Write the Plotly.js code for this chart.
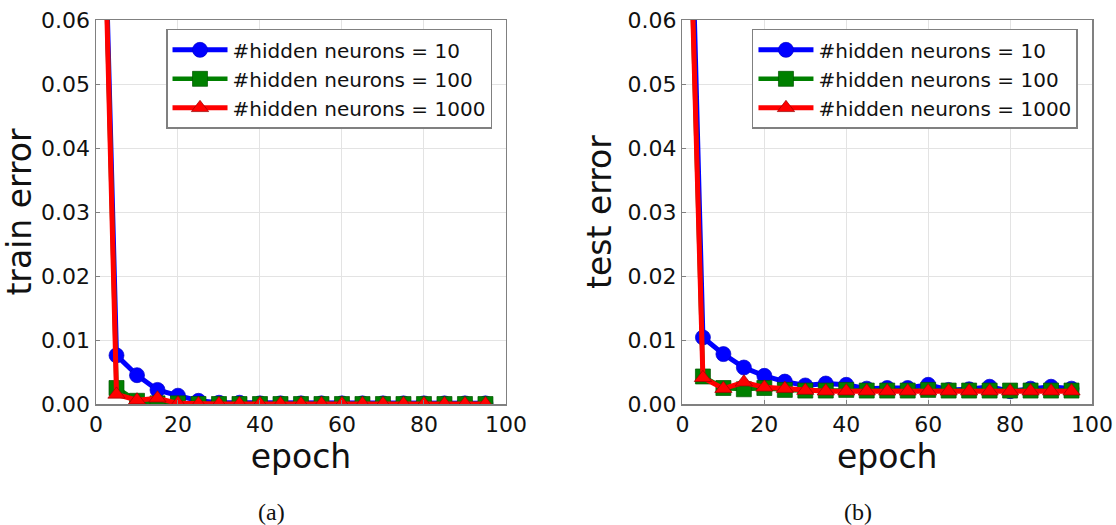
<!DOCTYPE html>
<html>
<head>
<meta charset="utf-8">
<script src="https://cdn.plot.ly/plotly-3.0.1.min.js"></script>
<style>html,body{margin:0;padding:0;background:#fff;}#chart{width:1116px;height:525px;}</style>
</head>
<body>
<div id="chart"></div>
<script>
// Data
const epochs = [0, 5, 10, 15, 20, 25, 30, 35, 40, 45, 50, 55, 60, 65, 70, 75, 80, 85, 90, 95];
const seriesNames = ['#hidden neurons = 10', '#hidden neurons = 100', '#hidden neurons = 1000'];

const trainH10 = [0.127, 0.0076, 0.0045, 0.0022, 0.0013, 0.0005, 0.0002, 0.0002, 0.0001, 0.0001, 0.0001, 0.0001, 0.0001, 0.0001, 0.0001, 0.0001, 0.0001, 0.0001, 0.0001, 0.0001];
const trainH100 = [0.128, 0.0025, 0.0005, 0.0001, 0.0001, 0.0000, 0.0000, 0.0000, 0.0000, 0.0000, 0.0000, 0.0000, 0.0000, 0.0000, 0.0000, 0.0000, 0.0000, 0.0000, 0.0000, 0.0000];
const trainH1000 = [0.128, 0.0015, 0.0006, 0.0009, 0.0001, 0.0000, 0.0000, 0.0000, 0.0000, 0.0000, 0.0000, 0.0000, 0.0000, 0.0000, 0.0000, 0.0000, 0.0000, 0.0000, 0.0000, 0.0000];

const testH10 = [0.130, 0.0104, 0.0078, 0.0057, 0.0044, 0.0035, 0.0029, 0.0032, 0.0030, 0.0024, 0.0025, 0.0025, 0.0030, 0.0022, 0.0023, 0.0027, 0.0020, 0.0024, 0.0027, 0.0024];
const testH100 = [0.119, 0.0043, 0.0025, 0.0023, 0.0025, 0.0022, 0.0021, 0.0021, 0.0022, 0.0021, 0.0021, 0.0021, 0.0022, 0.0021, 0.0021, 0.0021, 0.0021, 0.0021, 0.0021, 0.0021];
const testH1000 = [0.119, 0.0041, 0.0024, 0.0034, 0.0026, 0.0024, 0.0021, 0.0020, 0.0020, 0.0020, 0.0020, 0.0020, 0.0020, 0.0020, 0.0020, 0.0020, 0.0020, 0.0020, 0.0020, 0.0020];

const xTicks = [0, 20, 40, 60, 80, 100];
const yTicks = [0.00, 0.01, 0.02, 0.03, 0.04, 0.05, 0.06];

const styles = [
  {color: '#0000ff', symbol: 'circle', edge: '#0000cc', width: 5},
  {color: '#008000', symbol: 'square', edge: '#005500', width: 4.5},
  {color: '#ff0000', symbol: 'triangle-up', edge: '#990000', width: 5}
];

function mk(y, i, xa, ya, leg) {
  const s = styles[i];
  return {
    x: epochs, y: y, type: 'scatter', mode: 'lines+markers',
    name: seriesNames[i], xaxis: xa, yaxis: ya, legend: leg,
    cliponaxis: true,
    line: {color: s.color, width: s.width},
    marker: {symbol: s.symbol, size: 15, color: s.color, line: {color: s.edge, width: 0.7}}
  };
}

const data = [
  mk(trainH10, 0, 'x', 'y', 'legend'),
  mk(trainH100, 1, 'x', 'y', 'legend'),
  mk(trainH1000, 2, 'x', 'y', 'legend'),
  mk(testH10, 0, 'x2', 'y2', 'legend2'),
  mk(testH100, 1, 'x2', 'y2', 'legend2'),
  mk(testH1000, 2, 'x2', 'y2', 'legend2')
];

const F = 'DejaVu Sans';
function xax(domain, anchor) {
  return {
    domain: domain, anchor: anchor, range: [0, 100],
    tickvals: xTicks, ticktext: xTicks.map(String),
    ticks: 'inside', ticklen: 4, tickcolor: '#808080',
    showline: true, linecolor: '#808080', linewidth: 1.5, mirror: true,
    showgrid: true, gridcolor: '#e3e3e3', gridwidth: 1, zeroline: false,
    tickfont: {family: F, size: 22, color: '#111'},
    title: {text: 'epoch', font: {family: F, size: 33, color: '#111'}, standoff: 8}
  };
}
function yax(domain, anchor, title) {
  return {
    domain: domain, anchor: anchor, range: [0, 0.06],
    tickvals: yTicks, ticktext: yTicks.map(v => v.toFixed(2)),
    ticks: 'inside', ticklen: 4, tickcolor: '#808080',
    showline: true, linecolor: '#808080', linewidth: 1.5, mirror: true,
    showgrid: true, gridcolor: '#e3e3e3', gridwidth: 1, zeroline: false,
    tickfont: {family: F, size: 22, color: '#111'},
    title: {text: title, font: {family: F, size: 33, color: '#111'}, standoff: 6}
  };
}

const legendBase = {
  xanchor: 'left', yanchor: 'top', bgcolor: '#ffffff',
  bordercolor: '#808080', borderwidth: 1.5, itemwidth: 55,
  font: {family: F, size: 20, color: '#111'}
};

const layout = {
  width: 1116, height: 525,
  margin: {l: 96, r: 24, t: 20, b: 121},
  paper_bgcolor: '#fff', plot_bgcolor: '#fff',
  showlegend: true,
  xaxis: xax([0, 0.4116], 'y'),
  yaxis: yax([0, 1], 'x', 'train error'),
  xaxis2: xax([0.5888, 1.0], 'y2'),
  yaxis2: yax([0, 1], 'x2', 'test error'),
  legend: Object.assign({x: 0.0703, y: 0.977}, legendBase),
  legend2: Object.assign({x: 0.6586, y: 0.977}, legendBase),
  annotations: [
    {text: '(a)', xref: 'paper', yref: 'paper', x: 0.1764, y: -0.281, xanchor: 'center', yanchor: 'middle',
     showarrow: false, font: {family: 'Liberation Serif', size: 24, color: '#111'}},
    {text: '(b)', xref: 'paper', yref: 'paper', x: 0.7647, y: -0.281, xanchor: 'center', yanchor: 'middle',
     showarrow: false, font: {family: 'Liberation Serif', size: 24, color: '#111'}}
  ]
};

Plotly.newPlot('chart', data, layout, {staticPlot: true, displayModeBar: false});
</script>
</body>
</html>
